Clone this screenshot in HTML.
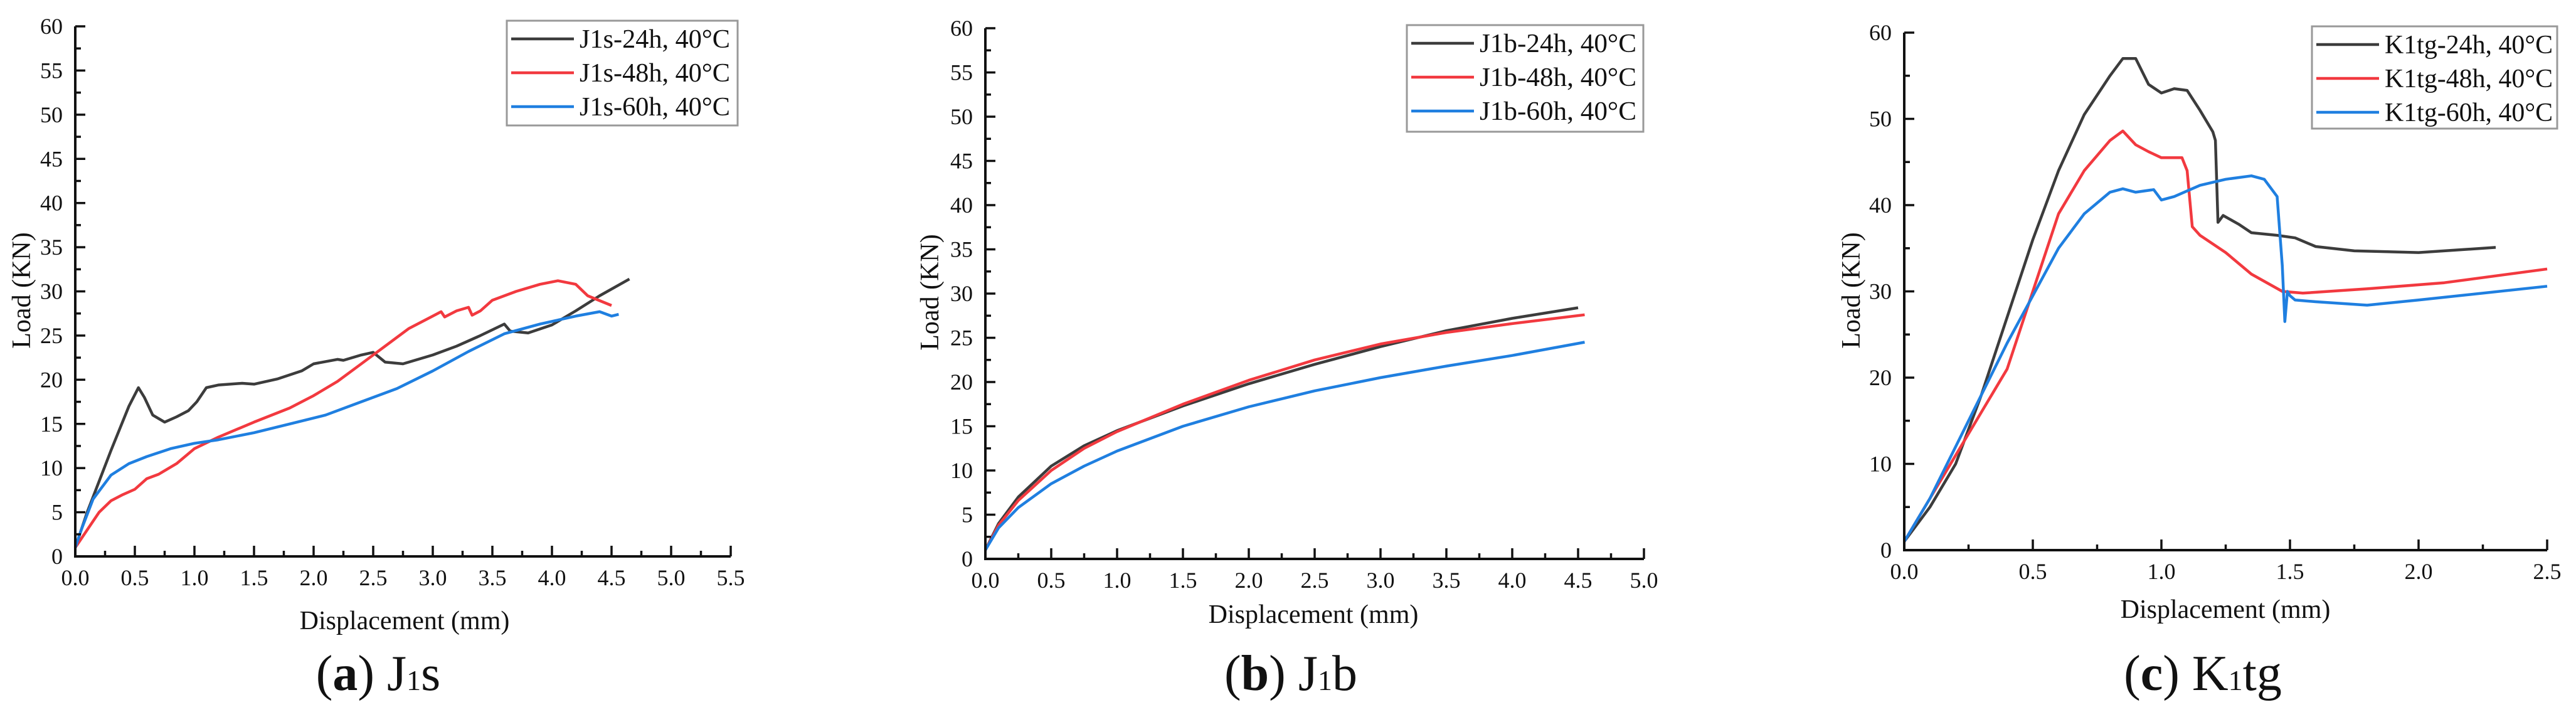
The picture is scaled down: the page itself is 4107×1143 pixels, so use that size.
<!DOCTYPE html>
<html><head><meta charset="utf-8">
<style>
html,body{margin:0;padding:0;background:#fff;}
svg{display:block;font-family:"Liberation Serif",serif;}
svg text{font-family:"Liberation Serif",serif;}
</style></head>
<body>
<svg id="fig" width="4107" height="1143" viewBox="0 0 4107 1143" font-family="Liberation Serif, serif" xmlns="http://www.w3.org/2000/svg"></svg>
<script>
// ---- Panel (a) J1s data ----
const aBlackX=[0,0.1,0.3,0.45,0.53,0.58,0.65,0.75,0.85,0.95,1.02,1.1,1.2,1.4,1.5,1.7,1.9,2.0,2.2,2.25,2.4,2.5,2.6,2.75,3.0,3.2,3.4,3.6,3.65,3.8,4.0,4.2,4.4,4.65];
const aBlackY=[1,5,12,17,19.1,18,16,15.2,15.8,16.5,17.5,19.1,19.4,19.6,19.5,20.1,21,21.8,22.3,22.2,22.8,23.1,22,21.8,22.8,23.8,25,26.3,25.5,25.3,26.2,27.8,29.5,31.4];
const aRedX=[0,0.1,0.2,0.3,0.4,0.5,0.6,0.7,0.85,1.0,1.2,1.5,1.8,2.0,2.2,2.4,2.6,2.8,3.0,3.07,3.1,3.2,3.3,3.33,3.4,3.5,3.7,3.9,4.05,4.2,4.3,4.5];
const aRedY=[1,3,5,6.3,7,7.6,8.8,9.3,10.5,12.2,13.5,15.2,16.8,18.2,19.8,21.8,23.8,25.8,27.2,27.7,27.1,27.8,28.2,27.3,27.8,29,30,30.8,31.2,30.8,29.5,28.4];
const aBlueX=[0,0.05,0.15,0.3,0.45,0.6,0.8,1.0,1.2,1.5,1.8,2.1,2.4,2.7,3.0,3.3,3.6,3.9,4.2,4.4,4.5,4.56];
const aBlueY=[1,3,6.5,9.2,10.5,11.3,12.2,12.8,13.2,14,15,16,17.5,19,21,23.2,25.2,26.3,27.2,27.7,27.2,27.4];
const aXTicks=["0.0","0.5","1.0","1.5","2.0","2.5","3.0","3.5","4.0","4.5","5.0","5.5"];
const aYTicks=["0","5","10","15","20","25","30","35","40","45","50","55","60"];
const aLegend=["J1s-24h, 40°C","J1s-48h, 40°C","J1s-60h, 40°C"];
// ---- Panel (b) J1b data ----
const bBlackX=[0,0.1,0.25,0.5,0.75,1,1.5,2,2.5,3,3.5,4,4.5];
const bBlackY=[1,4,7,10.5,12.8,14.5,17.3,19.8,22,24,25.8,27.2,28.4];
const bRedX=[0,0.1,0.25,0.5,0.75,1,1.5,2,2.5,3,3.5,4,4.55];
const bRedY=[1,3.8,6.6,10,12.5,14.4,17.5,20.2,22.5,24.3,25.6,26.6,27.6];
const bBlueX=[0,0.1,0.25,0.5,0.75,1,1.5,2,2.5,3,3.5,4,4.55];
const bBlueY=[1,3.5,5.8,8.5,10.5,12.2,15,17.2,19,20.5,21.8,23,24.5];
const bXTicks=["0.0","0.5","1.0","1.5","2.0","2.5","3.0","3.5","4.0","4.5","5.0"];
const bYTicks=["0","5","10","15","20","25","30","35","40","45","50","55","60"];
const bLegend=["J1b-24h, 40°C","J1b-48h, 40°C","J1b-60h, 40°C"];
// ---- Panel (c) K1tg data ----
const cBlackX=[0,0.1,0.2,0.3,0.4,0.5,0.6,0.7,0.8,0.85,0.9,0.95,1.0,1.05,1.1,1.15,1.2,1.21,1.22,1.24,1.3,1.35,1.45,1.52,1.6,1.75,2.0,2.3];
const cBlackY=[1,5,10,18,27,36,44,50.5,55,57,57,54,53,53.5,53.3,51,48.5,47.5,38,38.8,37.8,36.8,36.5,36.2,35.2,34.7,34.5,35.1];
const cRedX=[0,0.1,0.2,0.3,0.4,0.5,0.6,0.7,0.8,0.85,0.9,0.95,1.0,1.08,1.1,1.12,1.15,1.25,1.35,1.47,1.55,1.8,2.1,2.5];
const cRedY=[1,6,11,16,21,30,39,44,47.5,48.6,47,46.2,45.5,45.5,44,37.5,36.5,34.5,32,30,29.8,30.3,31,32.6];
const cBlueX=[0,0.1,0.2,0.3,0.4,0.5,0.6,0.7,0.8,0.85,0.9,0.97,1.0,1.05,1.15,1.25,1.35,1.4,1.45,1.47,1.48,1.49,1.5,1.52,1.6,1.8,2.0,2.5];
const cBlueY=[1,6,12,18,24,29.5,35,39,41.5,41.9,41.5,41.8,40.6,41,42.3,43,43.4,43,41,33,26.5,30,29.5,29,28.8,28.4,29,30.6];
const cXTicks=["0.0","0.5","1.0","1.5","2.0","2.5"];
const cYTicks=["0","10","20","30","40","50","60"];
const cLegend=["K1tg-24h, 40°C","K1tg-48h, 40°C","K1tg-60h, 40°C"];

const NS="http://www.w3.org/2000/svg";
const svg=document.getElementById('fig');
const COLORS=["#3c3c3c","#f2393f","#1f7fe0"];
function mk(tag,attrs,parent,text){const e=document.createElementNS(NS,tag);for(const k in attrs)e.setAttribute(k,attrs[k]);if(text!==undefined)e.textContent=text;parent.appendChild(e);return e;}

function panel(id,cfg){
  const g=mk('g',{},svg);
  
  
  const X=v=>cfg.x0+(v-cfg.xmin)/(cfg.xmax-cfg.xmin)*(cfg.x1-cfg.x0);
  const Y=v=>cfg.y0-(v-cfg.ymin)/(cfg.ymax-cfg.ymin)*(cfg.y0-cfg.y1);
  cfg.series.forEach((s,i)=>{
    const d=s.x.map((xv,j)=>(j?'L':'M')+X(xv).toFixed(1)+' '+Y(s.y[j]).toFixed(1)).join(' ');
    const p=mk('path',{d:d,fill:'none',stroke:COLORS[i],'stroke-width':4.5,'stroke-linejoin':'round'},g);
    
    
  });
  const ax=mk('path',{d:`M${cfg.x0} ${cfg.y1} L${cfg.x0} ${cfg.y0} L${cfg.x1} ${cfg.y0}`,fill:'none',stroke:'#111','stroke-width':4},g);
  
  
  const nx=cfg.xt.length;
  for(let i=0;i<nx;i++){
    const v=parseFloat(cfg.xt[i]);const px=X(v);
    mk('line',{x1:px,y1:cfg.y0,x2:px,y2:cfg.y0-17,stroke:'#111','stroke-width':3.5},g);
    const t=mk('text',{x:px,y:cfg.y0+46,'font-size':cfg.fs,'text-anchor':'middle',fill:'#111','font-family':'Liberation Serif, serif'},g,cfg.xt[i]);
    
    
    if(i<nx-1){const mv=(v+parseFloat(cfg.xt[i+1]))/2;const mp=X(mv);
      mk('line',{x1:mp,y1:cfg.y0,x2:mp,y2:cfg.y0-9,stroke:'#111','stroke-width':3.5},g);}
  }
  const ny=cfg.yt.length;
  for(let i=0;i<ny;i++){
    const v=parseFloat(cfg.yt[i]);const py=Y(v);
    mk('line',{x1:cfg.x0,y1:py,x2:cfg.x0+16,y2:py,stroke:'#111','stroke-width':3.5},g);
    const t=mk('text',{x:cfg.x0-20,y:py+12,'font-size':cfg.fs,'text-anchor':'end',fill:'#111','font-family':'Liberation Serif, serif'},g,cfg.yt[i]);
    
    
    if(i<ny-1){const mv=(v+parseFloat(cfg.yt[i+1]))/2;const mp=Y(mv);
      mk('line',{x1:cfg.x0,y1:mp,x2:cfg.x0+9,y2:mp,stroke:'#111','stroke-width':3.5},g);}
  }
  const xl=mk('text',{x:cfg.xlx,y:cfg.xly,'font-size':42,'text-anchor':'middle',fill:'#111','font-family':'Liberation Serif, serif'},g,'Displacement (mm)');
  
  
  const yl=mk('text',{x:0,y:0,'font-size':42,'text-anchor':'middle',fill:'#111','font-family':'Liberation Serif, serif',transform:`translate(${cfg.ylx},${cfg.yly}) rotate(-90)`},g,'Load (KN)');
  
  
  const lg=mk('g',{},g);
  
  
  const L=cfg.leg;
  mk('rect',{x:L.x,y:L.y,width:L.w,height:L.h,fill:'#fff',stroke:'#999','stroke-width':3},lg);
  cfg.legend.forEach((s,i)=>{
    const ry=L.y+29+i*54;
    mk('line',{x1:L.x+7,y1:ry,x2:L.x+107,y2:ry,stroke:COLORS[i],'stroke-width':4.5},lg);
    const t=mk('text',{x:L.x+116,y:ry+14,'font-size':42,fill:'#111','font-family':'Liberation Serif, serif',textLength:L.tw,lengthAdjust:'spacingAndGlyphs'},lg,s);
    
    
  });
  const cap=mk('text',{x:cfg.capx,y:1100,'font-size':80,'text-anchor':'middle',fill:'#111','font-family':'Liberation Serif, serif'},g);
  
  
  mk('tspan',{},cap,'(');
  mk('tspan',{'font-weight':'bold'},cap,cfg.letter);
  mk('tspan',{},cap,') '+cfg.cap[0]);
  mk('tspan',{'font-size':46},cap,'1');
  mk('tspan',{},cap,cfg.cap[1]);
}

panel('panel-a',{x0:120,x1:1165,y0:887,y1:42,xmin:0,xmax:5.5,ymin:0,ymax:60,xt:aXTicks,yt:aYTicks,fs:36,
  series:[{x:aBlackX,y:aBlackY},{x:aRedX,y:aRedY},{x:aBlueX,y:aBlueY}],legend:aLegend,
  leg:{x:808,y:33,w:368,h:167,tw:240},xlx:645,xly:1003,ylx:48,yly:463,capx:603,letter:'a',cap:['J','s']});
panel('panel-b',{x0:1571,x1:2621,y0:891,y1:45,xmin:0,xmax:5,ymin:0,ymax:60,xt:bXTicks,yt:bYTicks,fs:36,
  series:[{x:bBlackX,y:bBlackY},{x:bRedX,y:bRedY},{x:bBlueX,y:bBlueY}],legend:bLegend,
  leg:{x:2243,y:40,w:377,h:170,tw:250},xlx:2094,xly:993,ylx:1496,yly:466,capx:2058,letter:'b',cap:['J','b']});
panel('panel-c',{x0:3036,x1:4061,y0:877,y1:52,xmin:0,xmax:2.5,ymin:0,ymax:60,xt:cXTicks,yt:cYTicks,fs:36,
  series:[{x:cBlackX,y:cBlackY},{x:cRedX,y:cRedY},{x:cBlueX,y:cBlueY}],legend:cLegend,
  leg:{x:3686,y:42,w:391,h:163,tw:268},xlx:3548,xly:985,ylx:2965,yly:463,capx:3512,letter:'c',cap:['K','tg']});
</script>
</body></html>
